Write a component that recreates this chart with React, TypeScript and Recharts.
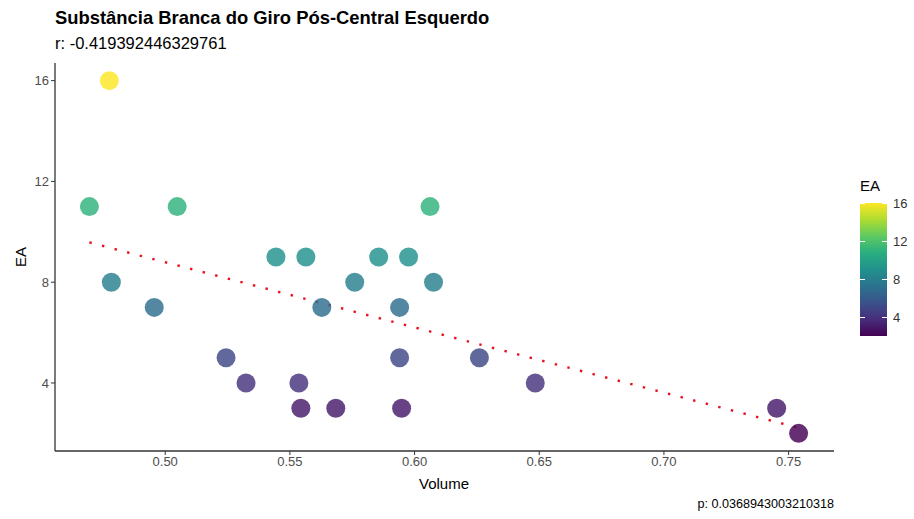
import { ScatterChart, Scatter, XAxis, YAxis, ReferenceLine } from 'recharts';

const volume = [
  0.4776, 0.4696, 0.5048, 0.6062, 0.4784, 0.4956, 0.5444, 0.5564, 0.576, 0.5856, 0.5976, 0.6076, 0.5628,
  0.594, 0.5244, 0.594, 0.5324, 0.5536, 0.5544, 0.5684, 0.5948, 0.626, 0.6484, 0.7452, 0.754,
];
const ea = [16, 11, 11, 11, 8, 7, 9, 9, 8, 9, 9, 8, 7, 7, 5, 5, 4, 4, 3, 3, 3, 5, 4, 3, 2];

const xTicks = [0.5, 0.55, 0.6, 0.65, 0.7, 0.75];
const yTicks = [4, 8, 12, 16];
const legendTicks = [4, 8, 12, 16];

// fitted line ends
const fitX = [0.4696, 0.754];
const fitY = [9.58, 2.22];

const title = 'Substância Branca do Giro Pós-Central Esquerdo';
const subtitle = 'r: -0.419392446329761';
const caption = 'p: 0.0368943003210318';

const viridis = ['#440154', '#472D7B', '#3B528B', '#2C728E', '#21918C', '#28AE80', '#5EC962', '#ADDC30', '#FDE725'];
const eaMin = 2;
const eaMax = 16;

function hex(c: string) {
  return [1, 3, 5].map((i) => parseInt(c.slice(i, i + 2), 16));
}

function colorFor(v: number) {
  const t = Math.max(0, Math.min(1, (v - eaMin) / (eaMax - eaMin))) * (viridis.length - 1);
  const i = Math.min(Math.floor(t), viridis.length - 2);
  const f = t - i;
  const a = hex(viridis[i]);
  const b = hex(viridis[i + 1]);
  const c = a.map((x, k) => Math.round(x + (b[k] - x) * f));
  return `rgb(${c[0]},${c[1]},${c[2]})`;
}

const points = volume.map((v, i) => ({ x: v, y: ea[i] }));

const font = '"Liberation Sans", Arial, sans-serif';

const Dot = (props: any) => {
  const { cx, cy, payload } = props;
  return <circle cx={cx} cy={cy} r={9.5} fill={colorFor(payload.y)} fillOpacity={0.82} />;
};

// legend bar geometry
const barTop = 203;
const barBottom = 336;
const barLeft = 860;
const barW = 27;
const barY = (v: number) => barBottom - ((v - eaMin) / (eaMax - eaMin)) * (barBottom - barTop);

export default function App() {
  return (
    <div style={{ position: 'absolute', left: 0, top: 0, width: 914, height: 519, background: '#fff', fontFamily: font }}>
      <div style={{ position: 'absolute', left: 55, top: 7, fontSize: 18.4, fontWeight: 'bold', color: '#000', whiteSpace: 'nowrap' }}>
        {title}
      </div>
      <div style={{ position: 'absolute', left: 55, top: 34, fontSize: 16.5, color: '#000', whiteSpace: 'nowrap' }}>{subtitle}</div>
      <ScatterChart width={914} height={519} margin={{ top: 63, right: 80, bottom: 28, left: 15 }}>
        <XAxis
          type="number"
          dataKey="x"
          domain={[0.4558, 0.7682]}
          ticks={xTicks}
          tickFormatter={(v: number) => v.toFixed(2)}
          allowDataOverflow
          height={40}
          tickSize={4}
          tick={{ fill: '#4d4d4d', fontSize: 13, fontFamily: font }}
          axisLine={{ stroke: '#333', strokeWidth: 1.3 }}
          tickLine={{ stroke: '#333' }}
        />
        <YAxis
          type="number"
          dataKey="y"
          domain={[1.3, 16.7]}
          ticks={yTicks}
          allowDataOverflow
          width={40}
          tickSize={4}
          tick={{ fill: '#4d4d4d', fontSize: 13, fontFamily: font }}
          axisLine={{ stroke: '#333', strokeWidth: 1.3 }}
          tickLine={{ stroke: '#333' }}
        />
        <Scatter data={points} shape={Dot} isAnimationActive={false} />
        <ReferenceLine
          segment={[
            { x: fitX[0], y: fitY[0] },
            { x: fitX[1], y: fitY[1] },
          ]}
          stroke="#e8101c"
          strokeWidth={2.4}
          strokeDasharray="2.4 10.6"
        />
      </ScatterChart>
      <div
        style={{
          position: 'absolute',
          left: 8,
          top: 257,
          fontSize: 15,
          color: '#000',
          transform: 'translate(-50%, -50%) rotate(-90deg)',
          marginLeft: 12,
        }}
      >
        EA
      </div>
      <div style={{ position: 'absolute', left: 444, top: 483, fontSize: 15, color: '#000', transform: 'translate(-50%, -50%)' }}>
        Volume
      </div>
      <div style={{ position: 'absolute', right: 80, top: 497, fontSize: 12.6, color: '#000', whiteSpace: 'nowrap' }}>{caption}</div>

      <div style={{ position: 'absolute', left: barLeft, top: 177, fontSize: 15, color: '#000' }}>EA</div>
      <div
        style={{
          position: 'absolute',
          left: barLeft,
          top: barTop,
          width: barW,
          height: barBottom - barTop,
          background: `linear-gradient(to top, ${viridis.join(', ')})`,
        }}
      />
      {legendTicks.map((t) => (
        <div key={t}>
          <div style={{ position: 'absolute', left: barLeft, top: barY(t), width: 5, height: 1, background: '#fff' }} />
          <div style={{ position: 'absolute', left: barLeft + barW - 5, top: barY(t), width: 5, height: 1, background: '#fff' }} />
          <div
            style={{ position: 'absolute', left: barLeft + barW + 6, top: barY(t), fontSize: 13, color: '#333', transform: 'translateY(-50%)' }}
          >
            {t}
          </div>
        </div>
      ))}
    </div>
  );
}
